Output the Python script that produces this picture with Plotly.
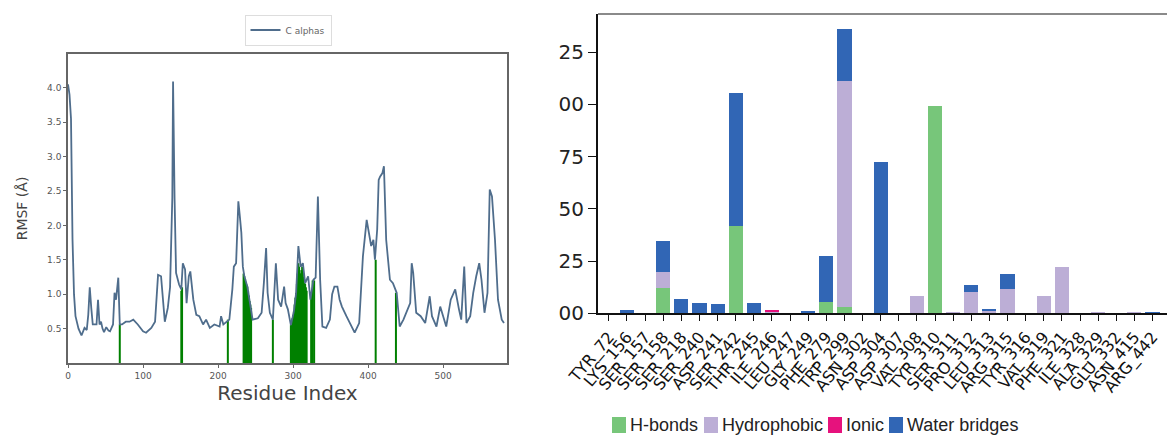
import plotly.graph_objects as go

# ---- RMSF of C-alpha atoms (left panel) ----
residue_index = [0, 2, 4, 6, 8, 10, 14, 18, 22, 25, 27, 29, 31, 33, 38, 40, 42, 44, 46, 48,
                 51, 54, 56, 60, 62, 64, 67, 69, 72, 77, 82, 87, 93, 100, 104, 111, 116, 120,
                 124, 129, 133, 136, 139, 140, 142, 144, 148, 151, 153, 156, 158, 161, 163, 167,
                 171, 175, 180, 184, 189, 195, 202, 204, 207, 211, 215, 219, 221, 224, 225, 227,
                 229, 231, 233, 235, 239, 242, 246, 253, 258, 261, 264, 266, 269, 273, 277, 280,
                 284, 288, 290, 293, 297, 301, 304, 307, 310, 313, 316, 320, 323, 327, 330, 333,
                 336, 339, 344, 349, 352, 355, 359, 362, 365, 371, 378, 382, 388, 393, 398, 401,
                 404, 407, 409, 412, 414, 416, 419, 421, 424, 429, 433, 438, 442, 447, 451, 456,
                 458, 460, 464, 470, 476, 482, 485, 491, 496, 500, 504, 510, 516, 521, 524, 528,
                 531, 536, 540, 544, 548, 551, 555, 559, 562, 565, 569, 573, 578, 581]
rmsf = [4.05, 3.9, 3.55, 1.8, 1.0, 0.68, 0.5, 0.4, 0.51, 0.48, 0.7, 1.1, 0.8, 0.56, 0.56, 0.92,
        0.56, 0.6, 0.5, 0.45, 0.52, 0.47, 0.46, 0.56, 1.02, 0.92, 1.24, 0.56, 0.56, 0.6, 0.6,
        0.63, 0.56, 0.46, 0.44, 0.51, 0.6, 1.28, 1.26, 0.6, 0.8, 1.1, 2.4, 4.09, 2.4, 1.31, 1.14,
        1.07, 1.45, 1.36, 0.87, 1.26, 1.33, 0.92, 0.7, 0.68, 0.56, 0.63, 0.51, 0.56, 0.53, 0.68,
        0.56, 0.6, 0.63, 1.07, 1.4, 1.45, 1.89, 2.35, 2.13, 1.89, 1.4, 1.26, 1.11, 0.9, 0.63,
        0.65, 0.73, 1.16, 1.67, 1.02, 0.73, 0.63, 1.45, 0.92, 0.82, 1.11, 0.87, 0.78, 0.55, 0.75,
        1.02, 1.7, 1.4, 1.45, 1.16, 1.26, 0.92, 1.21, 1.24, 2.42, 1.21, 0.53, 0.51, 0.63, 1.0,
        1.11, 1.11, 0.92, 0.82, 0.68, 0.53, 0.44, 0.58, 1.55, 2.08, 1.89, 1.7, 1.79, 1.5, 1.94,
        2.66, 2.71, 2.76, 2.86, 1.79, 1.21, 1.16, 1.02, 0.53, 0.63, 0.73, 0.87, 1.45, 1.31, 0.73,
        0.68, 0.58, 0.97, 0.68, 0.53, 0.82, 0.68, 0.53, 0.92, 1.07, 0.78, 0.63, 1.4, 0.58, 0.68,
        1.02, 1.26, 1.45, 1.21, 0.73, 1.02, 2.52, 2.42, 1.79, 0.92, 0.63, 0.58]

# residues in contact with the ligand, with their RMSF height
contact_res = [69, 151, 152, 213,
               234, 235, 236, 237, 238, 239, 240, 241, 242, 243, 244,
               273,
               297, 298, 299, 300, 301, 302, 303, 304, 305, 306, 307, 308, 309, 310, 311,
               312, 313, 314, 315, 316, 317, 318,
               324, 326, 328, 410, 437]
contact_rmsf = [0.56, 1.05, 1.1, 0.63,
                1.3, 1.26, 1.22, 1.18, 1.14, 1.11, 1.05, 0.98, 0.9, 0.85, 0.8,
                0.63,
                0.55, 0.6, 0.65, 0.7, 0.75, 0.85, 0.95, 1.02, 1.15, 1.3, 1.45, 1.4, 1.3, 1.3,
                1.35, 1.4, 1.35, 1.25, 1.16, 1.15, 1.1, 1.05,
                1.0, 1.2, 1.2, 1.5, 1.02]

# ---- protein-ligand contacts (right panel) ----
residues = ["TYR_72", "LYS_156", "SER_157", "SER_158", "SER_218", "SER_240", "ASP_241",
            "SER_242", "THR_245", "ILE_246", "LEU_247", "GLY_249", "PHE_279", "TRP_299",
            "ASN_302", "ASP_304", "ASP_307", "VAL_308", "TYR_310", "SER_311", "PRO_312",
            "LEU_313", "ARG_315", "TYR_316", "VAL_319", "PHE_321", "ILE_328", "ALA_329",
            "GLU_332", "ASN_415", "ARG_442"]
hbonds = [0, 0, 0, 0.12, 0, 0, 0, 0.42, 0, 0, 0, 0, 0.055, 0.03, 0, 0, 0, 0, 0.99, 0,
          0, 0, 0, 0, 0, 0, 0, 0, 0, 0, 0]
hydrophobic = [0, 0, 0, 0.08, 0, 0, 0, 0, 0, 0.008, 0, 0, 0, 1.08, 0, 0, 0, 0.084, 0, 0.004,
               0.1, 0.01, 0.118, 0, 0.083, 0.223, 0, 0.004, 0, 0.003, 0]
ionic = [0, 0, 0, 0, 0, 0, 0, 0, 0, 0.006, 0, 0, 0, 0, 0, 0, 0, 0, 0, 0,
         0, 0, 0, 0, 0, 0, 0, 0, 0, 0, 0]
water_bridges = [0, 0.015, 0, 0.147, 0.067, 0.05, 0.043, 0.635, 0.05, 0, 0, 0.012, 0.22, 0.25,
                 0, 0.725, 0, 0, 0, 0, 0.035, 0.01, 0.07, 0, 0, 0, 0, 0, 0, 0, 0.008]

y_ticks = [0, 0.25, 0.5, 0.75, 1.0, 1.25]
y_tick_text = ["00", "25", "50", "75", "00", "25"]

W, H = 1167, 441
fig = go.Figure()

# contact markers as vertical green bars from 0 to the RMSF value
cx, cy = [], []
for r, h in zip(contact_res, contact_rmsf):
    cx += [r, r, None]
    cy += [0, h, None]
fig.add_trace(go.Scatter(x=cx, y=cy, mode="lines", line=dict(color="#008000", width=2),
                         showlegend=False, hoverinfo="skip", xaxis="x", yaxis="y"))

fig.add_trace(go.Scatter(x=residue_index, y=rmsf, mode="lines", name="C alphas",
                         line=dict(color="#4f6d8c", width=1.8), xaxis="x", yaxis="y"))

series = [("H-bonds", hbonds, "#77c67a"), ("Hydrophobic", hydrophobic, "#bcaed6"),
          ("Ionic", ionic, "#e6127d"), ("Water bridges", water_bridges, "#3166b5")]
for name, vals, col in series:
    fig.add_trace(go.Bar(x=list(range(len(residues))), y=vals, name=name, marker_color=col,
                         marker_line_width=0, width=0.78, xaxis="x2", yaxis="y2",
                         showlegend=False))

# compact key under the contact panel: swatch + label per interaction type
key_left_px = [612, 704, 828, 889]
key_y = 1 - 425 / H
for (name, _, col), left in zip(series, key_left_px):
    fig.add_shape(type="rect", xref="paper", yref="paper",
                  x0=left / W, x1=(left + 14) / W, y0=key_y - 8 / H, y1=key_y + 8 / H,
                  fillcolor=col, line_width=0)
    fig.add_annotation(xref="paper", yref="paper", x=(left + 16) / W, y=key_y,
                       xanchor="left", yanchor="middle", showarrow=False, text=name,
                       font=dict(family="Liberation Sans", size=18, color="#222"))

# top spine of the contact panel
fig.add_shape(type="line", xref="paper", yref="paper", x0=598 / W, x1=1.0,
              y0=1 - 14 / H, y1=1 - 14 / H, line=dict(color="#8a8a8a", width=2))

fig.update_layout(
    width=W, height=H, margin=dict(l=0, r=0, t=0, b=0, autoexpand=False),
    paper_bgcolor="white", plot_bgcolor="white", barmode="stack", bargap=0.2,
    font=dict(family="DejaVu Sans", color="#222"),
    xaxis=dict(domain=[68 / W, 507 / W], range=[0, 585], tickvals=[0, 100, 200, 300, 400, 500],
               anchor="y", automargin=False,
               showline=True, linecolor="#666", linewidth=1.5, mirror=True,
               ticks="outside", ticklen=3, tickcolor="#666", showgrid=False, zeroline=False,
               tickfont=dict(size=9, color="#555"),
               title=dict(text="Residue Index", font=dict(size=20, color="#444"), standoff=0)),
    yaxis=dict(domain=[1 - 363 / H, 1 - 54 / H], range=[0, 4.49], anchor="x", automargin=False,
               tickvals=[0.5, 1.0, 1.5, 2.0, 2.5, 3.0, 3.5, 4.0],
               ticktext=["0.5", "1.0", "1.5", "2.0", "2.5", "3.0", "3.5", "4.0"],
               showline=True, linecolor="#666", linewidth=1.5, mirror=True,
               ticks="outside", ticklen=3, tickcolor="#666", showgrid=False, zeroline=False,
               tickfont=dict(size=9, color="#555"),
               title=dict(text="RMSF (Å)", font=dict(size=14, color="#444"), standoff=16)),
    xaxis2=dict(domain=[598 / W, 1.0], range=[-0.6, 30.8], anchor="y2", automargin=False,
                tickvals=list(range(len(residues))), ticktext=residues, tickangle=-50,
                showline=True, linecolor="#111", linewidth=2, ticks="outside", ticklen=6,
                tickcolor="#111", showgrid=False, zeroline=False,
                tickfont=dict(size=16, color="#111")),
    yaxis2=dict(domain=[1 - 313.3 / H, 1 - 14 / H], range=[0, 1.432], anchor="x2",
                automargin=False, tickvals=y_ticks, ticktext=y_tick_text,
                showline=True, linecolor="#111", linewidth=2, ticks="outside", ticklen=8,
                tickcolor="#111", showgrid=False, zeroline=False,
                tickfont=dict(size=20, color="#222")),
    showlegend=True,
    legend=dict(x=288 / W, y=1 - 30 / H, xanchor="center", yanchor="middle",
                orientation="h", font=dict(size=9, color="#666"), bgcolor="white",
                bordercolor="#ddd", borderwidth=1, itemwidth=30),
)

fig.write_html("out.html")
